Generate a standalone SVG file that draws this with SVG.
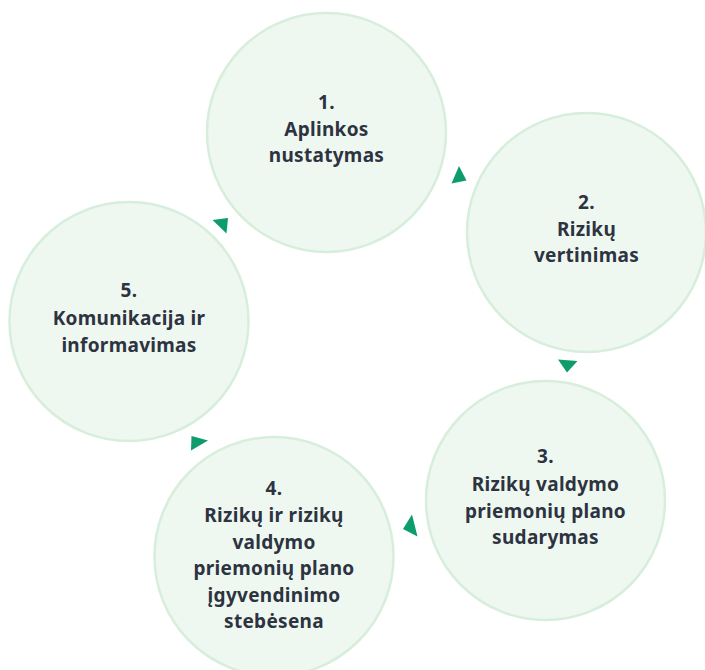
<svg xmlns="http://www.w3.org/2000/svg" width="705" height="670" viewBox="0 0 705 670">
<style>
.c{fill:#eef8f0;stroke:#d7eedc;stroke-width:2.5}
.t{font-family:"Noto Sans","Open Sans","Liberation Sans",sans-serif;font-weight:700;font-size:19px;letter-spacing:0.3px;fill:#2d3340;text-anchor:middle}
.a{fill:#0d9c6a}
</style>
<rect width="705" height="670" fill="#ffffff"/>
<g id="node1">
<circle class="c" cx="326.5" cy="132.5" r="119.5"/>
<text class="t" x="326.5" y="109">1.</text>
<text class="t" x="326.5" y="136">Aplinkos</text>
<text class="t" x="326.5" y="162">nustatymas</text>
</g>
<g id="node2">
<circle class="c" cx="586.5" cy="232.5" r="119.5"/>
<text class="t" x="586.5" y="209">2.</text>
<text class="t" x="586.5" y="236">Rizikų</text>
<text class="t" x="586.5" y="262">vertinimas</text>
</g>
<g id="node3">
<circle class="c" cx="545.5" cy="500.5" r="119.5"/>
<text class="t" x="545.5" y="463">3.</text>
<text class="t" x="545.5" y="490.5">Rizikų valdymo</text>
<text class="t" x="545.5" y="517.5">priemonių plano</text>
<text class="t" x="545.5" y="544">sudarymas</text>
</g>
<g id="node4">
<circle class="c" cx="274" cy="556.5" r="119.5"/>
<text class="t" x="274" y="494.5">4.</text>
<text class="t" x="274" y="521.5">Rizikų ir rizikų</text>
<text class="t" x="274" y="548.5">valdymo</text>
<text class="t" x="274" y="575">priemonių plano</text>
<text class="t" x="274" y="601.5">įgyvendinimo</text>
<text class="t" x="274" y="627.5">stebėsena</text>
</g>
<g id="node5">
<circle class="c" cx="129" cy="321.5" r="119.5"/>
<text class="t" x="129" y="297">5.</text>
<text class="t" x="129" y="325">Komunikacija ir</text>
<text class="t" x="129" y="351.5">informavimas</text>
</g>
<g id="connectors">
<polygon class="a" points="459,166 451.5,183.5 466.5,180.5"/>
<polygon class="a" points="558,359.5 577.5,361 567,372.5"/>
<polygon class="a" points="412,514.5 403,529 417.5,536.5"/>
<polygon class="a" points="191.5,436 208,440.5 191,450.5"/>
<polygon class="a" points="212.5,220 228,218 226.5,233.5"/>
</g>
</svg>
